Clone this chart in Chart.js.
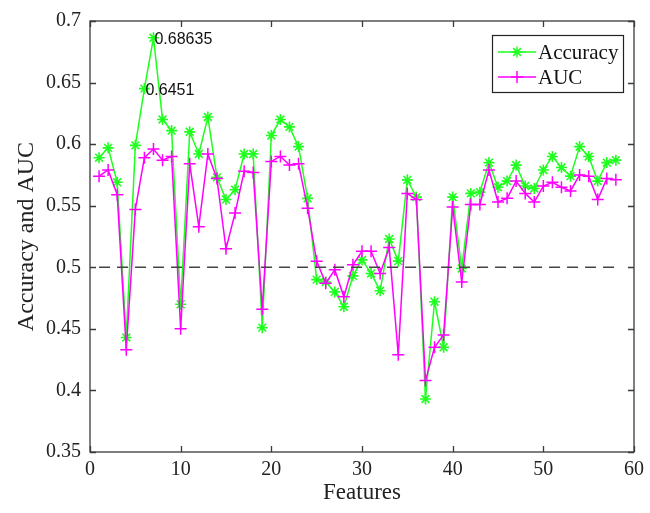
<!DOCTYPE html>
<html>
<head>
<meta charset="utf-8">
<script src="https://cdn.jsdelivr.net/npm/chart.js@4.4.1/dist/chart.umd.min.js"></script>
<style>
    html, body { margin: 0; padding: 0; background: #fff; }
    #wrap { width: 650px; height: 513px; }
</style>
</head>
<body>
<div id="wrap"><canvas id="featChart" width="650" height="513"></canvas></div>
<script>
// Feature index 1..58
const features = Array.from({length: 58}, (_, i) => i + 1);

const accuracy = [
    0.589, 0.597, 0.569, 0.443, 0.599, 0.6451, 0.68635, 0.620, 0.611, 0.470,
    0.610, 0.592, 0.622, 0.573, 0.555, 0.563, 0.592, 0.592, 0.451, 0.607,
    0.620, 0.614, 0.598, 0.556, 0.490, 0.488, 0.480, 0.468, 0.493, 0.506,
    0.495, 0.481, 0.523, 0.505, 0.571, 0.557, 0.393, 0.472, 0.435, 0.557,
    0.499, 0.560, 0.561, 0.585, 0.565, 0.570, 0.583, 0.566, 0.564, 0.579,
    0.590, 0.581, 0.574, 0.598, 0.590, 0.570, 0.585, 0.587
];

const auc = [
    0.574, 0.579, 0.559, 0.433, 0.547, 0.589, 0.596, 0.587, 0.590, 0.450,
    0.584, 0.533, 0.592, 0.572, 0.515, 0.544, 0.578, 0.577, 0.466, 0.586,
    0.590, 0.583, 0.584, 0.548, 0.505, 0.487, 0.498, 0.476, 0.502, 0.513,
    0.513, 0.495, 0.516, 0.429, 0.560, 0.555, 0.408, 0.435, 0.445, 0.549,
    0.488, 0.551, 0.551, 0.579, 0.553, 0.556, 0.570, 0.560, 0.553, 0.566,
    0.569, 0.565, 0.562, 0.575, 0.574, 0.555, 0.572, 0.571
];

// Chance level reference line
const baseline = 0.5;

// Points whose accuracy gets a value label (indices into accuracy)
const labelledPoints = [5, 6];

const xTicks = [0, 10, 20, 30, 40, 50, 60];
const yTicks = [0.35, 0.4, 0.45, 0.5, 0.55, 0.6, 0.65, 0.7];
const yTickLabels = ['0.35', '0.4', '0.45', '0.5', '0.55', '0.6', '0.65', '0.7'];

const seriesNames = ['Accuracy', 'AUC'];

const GREEN = '#1eff1e';
const MAGENTA = '#ff00ff';
const SERIF = '"Liberation Serif", "Times New Roman", serif';
const SANS = '"Liberation Sans", Arial, sans-serif';

const toPoints = vals => vals.map((v, i) => ({x: features[i], y: v}));

// Box around the axes with inward ticks on all four sides
const framePlugin = {
    id: 'frame',
    afterDatasetsDraw(chart) {
        const {ctx, chartArea: a, scales} = chart;
        const len = 6;
        ctx.save();
        ctx.strokeStyle = '#3a3a3a';
        ctx.lineWidth = 1.3;
        ctx.strokeRect(a.left, a.top, a.right - a.left, a.bottom - a.top);
        ctx.beginPath();
        xTicks.forEach(v => {
            const px = Math.round(scales.x.getPixelForValue(v)) + 0.5;
            ctx.moveTo(px, a.bottom); ctx.lineTo(px, a.bottom - len);
            ctx.moveTo(px, a.top); ctx.lineTo(px, a.top + len);
        });
        yTicks.forEach(v => {
            const py = Math.round(scales.y.getPixelForValue(v)) + 0.5;
            ctx.moveTo(a.left, py); ctx.lineTo(a.left + len, py);
            ctx.moveTo(a.right, py); ctx.lineTo(a.right - len, py);
        });
        ctx.stroke();
        ctx.restore();
    }
};

// Value labels next to selected accuracy points
const valueLabelPlugin = {
    id: 'valueLabels',
    afterDatasetsDraw(chart) {
        const {ctx, scales} = chart;
        ctx.save();
        ctx.font = '16px ' + SANS;
        ctx.fillStyle = '#111';
        ctx.textAlign = 'left';
        ctx.textBaseline = 'middle';
        labelledPoints.forEach(i => {
            const px = scales.x.getPixelForValue(features[i]);
            const py = scales.y.getPixelForValue(accuracy[i]);
            ctx.fillText(String(accuracy[i]), px + 1, py + 2);
        });
        ctx.restore();
    }
};

// Boxed legend in the upper right corner
const boxLegendPlugin = {
    id: 'boxLegend',
    afterDraw(chart) {
        const {ctx} = chart;
        const x0 = 492, y0 = 35, w = 131, h = 57;
        ctx.save();
        ctx.fillStyle = '#fff';
        ctx.fillRect(x0, y0, w, h);
        ctx.strokeStyle = '#222';
        ctx.lineWidth = 1.2;
        ctx.strokeRect(x0 + 0.5, y0 + 0.5, w, h);
        seriesNames.forEach((name, k) => {
            const ds = chart.data.datasets[k];
            const y = y0 + 17 + k * 25;
            ctx.strokeStyle = ds.borderColor;
            ctx.lineWidth = ds.borderWidth;
            ctx.beginPath();
            ctx.moveTo(x0 + 6, y);
            ctx.lineTo(x0 + 44, y);
            ctx.stroke();
            Chart.helpers.drawPoint(ctx, {
                pointStyle: ds.pointStyle,
                radius: ds.pointRadius,
                borderWidth: ds.pointBorderWidth,
                rotation: 0
            }, x0 + 25, y);
            ctx.fillStyle = '#111';
            ctx.font = '21px ' + SERIF;
            ctx.textBaseline = 'middle';
            ctx.textAlign = 'left';
            ctx.fillText(name, x0 + 46, y + 1);
        });
        ctx.restore();
    }
};

const ctx = document.getElementById('featChart').getContext('2d');
const chart = new Chart(ctx, {
    type: 'line',
    data: {
        datasets: [
            {
                label: seriesNames[0],
                data: toPoints(accuracy),
                borderColor: GREEN,
                backgroundColor: GREEN,
                borderWidth: 1.5,
                pointStyle: 'star',
                pointRadius: 5.5,
                pointBorderWidth: 1.6,
                pointBorderColor: GREEN,
                tension: 0,
                order: 2
            },
            {
                label: seriesNames[1],
                data: toPoints(auc),
                borderColor: MAGENTA,
                backgroundColor: MAGENTA,
                borderWidth: 1.5,
                pointStyle: 'cross',
                pointRadius: 6,
                pointBorderWidth: 1.5,
                pointBorderColor: MAGENTA,
                tension: 0,
                order: 1
            },
            {
                label: 'baseline',
                data: [
                    {x: features[0], y: baseline},
                    {x: features[features.length - 1], y: baseline}
                ],
                borderColor: '#444',
                borderWidth: 1.6,
                borderDash: [11, 7],
                pointRadius: 0,
                order: 0
            }
        ]
    },
    options: {
        responsive: false,
        animation: false,
        events: [],
        layout: { padding: { top: 20, right: 10, left: 0, bottom: 0 } },
        plugins: {
            legend: { display: false },
            tooltip: { enabled: false }
        },
        scales: {
            x: {
                type: 'linear',
                min: 0,
                max: 60,
                grid: { display: false, drawTicks: false },
                border: { display: false },
                afterBuildTicks: scale => { scale.ticks = xTicks.map(v => ({value: v})); },
                afterFit: scale => { scale.height = 61; },
                ticks: {
                    color: '#222',
                    padding: 6,
                    maxRotation: 0,
                    font: { family: SERIF, size: 20 },
                    callback: v => String(v)
                },
                title: {
                    display: true,
                    text: 'Features',
                    color: '#222',
                    padding: { top: 6, bottom: 6 },
                    font: { family: SERIF, size: 23 }
                }
            },
            y: {
                type: 'linear',
                min: 0.35,
                max: 0.7,
                grid: { display: false, drawTicks: false },
                border: { display: false },
                afterBuildTicks: scale => { scale.ticks = yTicks.map(v => ({value: v})); },
                afterFit: scale => { scale.width = 90; },
                ticks: {
                    color: '#222',
                    padding: 9,
                    font: { family: SERIF, size: 20 },
                    callback: (v, i) => yTickLabels[i]
                },
                title: {
                    display: true,
                    text: 'Accuracy and AUC',
                    color: '#222',
                    padding: { top: 12, bottom: 4 },
                    font: { family: SERIF, size: 24 }
                }
            }
        }
    },
    plugins: [framePlugin, valueLabelPlugin, boxLegendPlugin]
});
</script>
</body>
</html>
